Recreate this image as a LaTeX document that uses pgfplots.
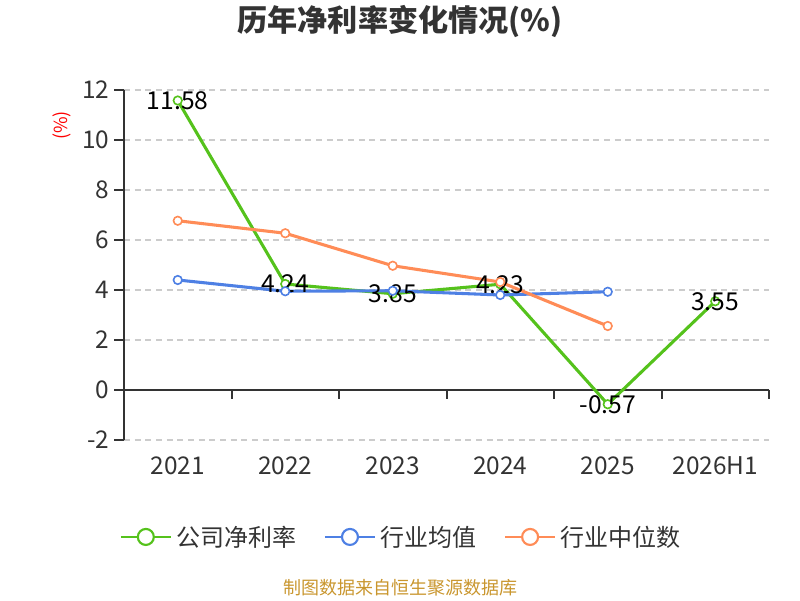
\documentclass[border=0pt]{standalone}
\usepackage{pgfplots}
\pgfplotsset{compat=1.18}
\usepackage{fontspec}
\setmainfont{Noto Sans CJK SC}[Numbers=Monospaced]
\definecolor{cgreen}{HTML}{55C21C}
\definecolor{cblue}{HTML}{4E80E4}
\definecolor{corange}{HTML}{FF8C57}
\definecolor{caxis}{HTML}{333333}
\definecolor{cgrid}{HTML}{CCCCCC}
\definecolor{csrc}{HTML}{C9962E}
\begin{document}
\begin{tikzpicture}
\path (0pt,0pt) rectangle (600pt,450pt);
\node[font=\fontsize{22.6}{26}\selectfont\bfseries, text=caxis] at (300pt,433.5pt) {历年净利率变化情况(\%)};
\node[font=\fontsize{13.5}{15}\selectfont, text=red, rotate=90] at (46.5pt,356pt) {(\%)};
\node[font=\fontsize{13.5}{15}\selectfont, text=csrc] at (300pt,9pt) {制图数据来自恒生聚源数据库};
\begin{axis}[
  at={(93pt,120pt)}, anchor=south west,
  scale only axis, width=483.75pt, height=262.5pt,
  xmin=-0.5, xmax=5.5, ymin=-2, ymax=12,
  xtick={0,1,2,3,4,5},
  xticklabels={2021,2022,2023,2024,2025,2026H1},
  ytick={-2,0,2,4,6,8,10,12},
  axis y line*=left, axis x line*=bottom,
  x axis line style={draw=none}, xtick style={draw=none},
  y axis line style={draw=caxis, line width=1.5pt, -},
  ytick style={draw=caxis, line width=1.5pt},
  tick align=outside, major tick length=7.5pt,
  ymajorgrids,
  grid style={draw=cgrid, line width=1.1pt, dash pattern=on 4.5pt off 3.5pt},
  tick label style={font=\fontsize{18.3}{20}\selectfont, text=caxis},
  /pgf/number format/assume math mode=true,
  xticklabel style={yshift=-1.5pt},
  clip=false,
  nodes near coords,
  every node near coord/.append style={anchor=center, font=\fontsize{18.5}{20}\selectfont, text=black},
  legend columns=3,
  legend style={at={(0.432,-0.277)}, anchor=center, draw=none, fill=none,
    font=\fontsize{18}{20}\selectfont, text=caxis,
    /tikz/every even column/.append style={column sep=17pt},
    nodes={inner sep=3.5pt}},
  legend image code/.code={
    \draw[#1, line width=1.6pt] (0pt,0pt) -- (37.5pt,0pt);
    \draw[#1, line width=1.6pt, fill=white] (18.75pt,0pt) circle (6pt);
  },
]
\draw[caxis, line width=1.5pt] (axis cs:-0.5,0) -- (axis cs:5.5,0);
\draw[caxis, line width=1.5pt] (axis cs:0.5,0) -- ++(0pt,-6.5pt);
\draw[caxis, line width=1.5pt] (axis cs:1.5,0) -- ++(0pt,-6.5pt);
\draw[caxis, line width=1.5pt] (axis cs:2.5,0) -- ++(0pt,-6.5pt);
\draw[caxis, line width=1.5pt] (axis cs:3.5,0) -- ++(0pt,-6.5pt);
\draw[caxis, line width=1.5pt] (axis cs:4.5,0) -- ++(0pt,-6.5pt);
\draw[caxis, line width=1.5pt] (axis cs:5.5,0) -- ++(0pt,-6.5pt);
\addplot[cgreen, line width=2.3pt, mark=*, mark size=3.2pt, mark options={fill=white, line width=1.2pt},
  nodes near coords={\pgfmathprintnumber[fixed,precision=2,fixed zerofill]{\pgfplotspointmeta}}]
  coordinates {(0,11.58) (1,4.24) (2,3.85) (3,4.23) (4,-0.57) (5,3.55)};
\addlegendentry{公司净利率}
\addplot[cblue, line width=2.3pt, mark=*, mark size=3.2pt, mark options={fill=white, line width=1.2pt},
  nodes near coords={}]
  coordinates {(0,4.40) (1,3.95) (2,3.97) (3,3.80) (4,3.93)};
\addlegendentry{行业均值}
\addplot[corange, line width=2.3pt, mark=*, mark size=3.2pt, mark options={fill=white, line width=1.2pt},
  nodes near coords={}]
  coordinates {(0,6.77) (1,6.27) (2,4.97) (3,4.32) (4,2.56)};
\addlegendentry{行业中位数}
\end{axis}
\end{tikzpicture}
\end{document}
